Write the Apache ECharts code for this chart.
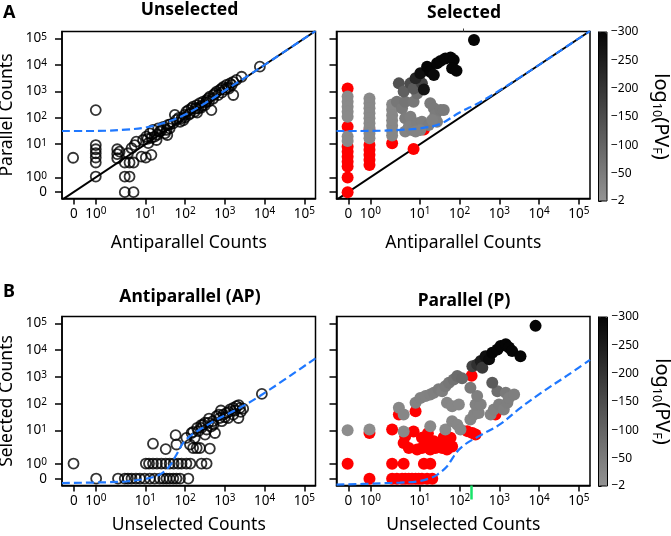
<!DOCTYPE html>
<html><head><meta charset="utf-8">
<script src="https://cdn.jsdelivr.net/npm/echarts@6/dist/echarts.min.js"></script>
<style>html,body{margin:0;padding:0;background:#fff}#c{width:671px;height:536px}</style>
</head><body><div id="c"></div><script>
// Axis coordinates are in "log10 count" units: 10^k sits at k; the special ticks "0" and "10^0" sit at -0.8 and -0.25.
const tickPos = [-0.8, -0.25, 1, 2, 3, 4, 5];
const tickLabels = ['0', '10{s|0}', '10{s|1}', '10{s|2}', '10{s|3}', '10{s|4}', '10{s|5}'];
const cbTicks = [-300, -250, -200, -150, -100, -50, -2];
const pvRange = [-300, -2];

// Panel A, Unselected: [antiparallel, parallel]
const unselPts = [
[-0.82,0.49],
[-0.25,2.29],[-0.25,0.97],[-0.25,0.81],[-0.25,0.66],[-0.25,0.5],[-0.25,0.31],[-0.25,-0.22],
[0.29,0.81],[0.29,0.63],[0.29,0.47],[0.35,0.72],
[0.48,0.31],[0.6,0.31],[0.7,0.31],[0.48,-0.22],[0.6,-0.22],[0.48,-0.81],[0.7,-0.81],
[0.56,0.66],[0.65,0.85],[0.77,1.1],[0.73,0.97],[0.9,0.53],[1.01,0.5],[1.15,0.6],
[0.94,1.16],[1.02,1.29],[1.07,1.04],[1.11,1.41],[1.19,1.54],[1.23,1.29],[1.28,1.16],[1.32,1.6],[1.36,1.48],
[1.45,1.66],[1.49,1.41],[1.53,1.54],[1.57,1.73],[1.61,1.6],[1.7,1.79],[1.74,2.11],[1.78,1.92],[1.87,1.85],
[1.91,1.98],[1.99,2.11],[2.03,2.23],[2.08,2.29],[2.12,2.17],[2.16,2.36],[2.2,2.42],[2.24,2.23],[2.29,2.48],
[2.33,2.36],[2.37,2.55],[2.41,2.45],[2.45,2.61],[2.5,2.48],[2.54,2.67],[2.58,2.73],[2.62,2.8],[2.66,2.29],
[2.71,2.86],[2.75,2.92],[2.79,2.99],[2.83,2.86],[2.87,3.05],[2.92,3.11],[2.96,3.17],[3,3.07],[3.04,3.24],
[3.08,3.15],[3.13,3.3],[3.17,3.24],[3.21,3.36],[3.21,2.86],[3.29,3.43],[3.42,3.55],[3.88,3.93],
[2.0,2.02],[2.1,2.12],[2.26,2.35],[2.4,2.38],[2.52,2.58],[2.6,2.62],[2.7,2.72],[1.84,2.0],[1.62,1.75],
[1.4,1.52],[1.3,1.36],[1.15,1.24],[2.92,2.95],[3.1,3.1],[1.95,1.9],[2.3,2.2],[1.55,1.35],[1.05,1.2]
];
const unselFit = [[-1.1,1.5],[-0.5,1.5],[0,1.51],[0.5,1.55],[1,1.63],[1.5,1.82],[2,2.12],[2.5,2.55],[3,3.03],[3.5,3.51],[4,4.0],[4.5,4.5],[5.28,5.28]];

// Panel A, Selected: red = not significant; gray = [ap, p, log10(PV_F)]
const selRed = [
[-0.82,3.11],[-0.82,1.66],[-0.82,0.91],[-0.82,0.72],[-0.82,0.53],[-0.82,0.34],[-0.82,0.16],[-0.82,-0.26],[-0.82,-0.81],
[-0.27,1.54],[-0.27,0.97],[-0.27,0.79],[-0.27,0.6],[-0.27,0.41],[-0.27,0.22],
[0.3,1.04],[0.84,0.82],[1.1,1.56]
];
const selGray = [
[-0.82,2.8,-20],[-0.82,2.61,-20],[-0.82,2.42,-20],[-0.82,2.23,-20],[-0.82,2.04,-20],[-0.82,1.29,-20],[-0.82,1.12,-20],
[-0.27,2.73,-22],[-0.27,2.55,-22],[-0.27,2.36,-22],[-0.27,2.17,-22],[-0.27,1.98,-22],[-0.27,1.79,-22],[-0.27,1.62,-22],[-0.27,1.41,-22],[-0.27,1.23,-22],
[0.3,2.5,-28],[0.3,2.3,-28],[0.3,2.1,-28],[0.3,1.9,-28],[0.3,1.7,-28],[0.3,1.5,-28],[0.3,1.33,-28],
[0.42,2.61,-60],[0.55,2.36,-55],[0.63,2.61,-65],[0.84,2.61,-60],[0.93,2.92,-75],[0.63,1.98,-48],[0.76,2.04,-45],
[0.72,1.66,-40],[0.63,1.48,-35],[0.8,1.54,-40],[0.93,1.79,-45],[1.05,1.85,-45],[1.22,1.73,-48],[1.26,2.55,-55],
[1.35,2.36,-55],[1.39,2.11,-50],[1.52,2.29,-55],[1.6,2.29,-55],[1.43,1.85,-45],[1.31,1.92,-40],[1.01,1.54,-35],[0.89,1.48,-35],
[0.47,3.3,-140],[0.59,2.99,-110],[0.76,3.3,-150],[0.84,3.11,-120],[1.05,3.3,-170],[0.89,3.49,-230],[1.01,3.68,-280],
[1.1,3.07,-270],[1.18,3.93,-300],[1.26,3.74,-300],[1.35,3.62,-290],[1.43,4.06,-300],[1.52,4.15,-300],[1.64,4.24,-300],
[1.77,4.28,-300],[1.85,4.18,-300],[1.81,3.87,-300],[1.92,3.78,-300],[2.36,4.94,-300]
];
const selFit = [[-1.1,1.5],[-0.5,1.5],[0,1.51],[0.5,1.54],[1,1.6],[1.5,1.76],[2,2.2],[2.5,2.58],[3,3.03],[3.5,3.51],[4,4.0],[4.5,4.5],[5.28,5.28]];
const identity = [[-1.1,-1.1],[5.28,5.28]];

// Panel B, Antiparallel: [unselected, selected]
const apPts = [
[-0.81,-0.23],[-0.24,-0.79],
[0.31,-0.79],[0.48,-0.79],[0.56,-0.79],[0.65,-0.79],[0.76,-0.79],[0.86,-0.79],[0.98,-0.79],[1.11,-0.79],[1.23,-0.79],
[1.36,-0.79],[1.45,-0.79],[1.53,-0.79],[1.61,-0.79],[1.7,-0.79],[1.78,-0.79],[1.87,-0.79],[2.08,-0.79],
[1.01,-0.23],[1.09,-0.23],[1.19,-0.23],[1.29,-0.23],[1.4,-0.23],[1.51,-0.23],[1.61,-0.23],[1.71,-0.23],[1.82,-0.23],
[1.91,-0.23],[2.03,-0.23],[2.13,-0.23],[2.41,-0.23],[2.54,-0.23],
[1.19,0.51],[1.51,0.31],[1.76,0.83],[1.78,0.48],[2.03,0.73],[2.16,0.91],[2.24,0.73],[2.33,0.98],[2.37,0.35],
[2.29,0.35],[2.2,0.35],[2.62,0.33],[2.45,1.22],[2.54,1.04],[2.41,1.1],[2.58,1.29],[2.71,1.22],[2.79,1.54],
[2.75,0.91],[2.87,1.47],[2.96,1.6],[2.92,1.35],[3.04,1.66],[3.13,1.79],[3.21,1.85],[3.29,1.91],[3.38,1.85],
[3.46,1.82],[3.34,1.47],[3.21,1.6],[3.08,1.47],[2.66,1.16],[2.5,0.85],[2.12,0.48],[3.93,2.37],
[2.5,1.3],[2.6,1.45],[2.7,1.35],[2.85,1.6],[3.0,1.5],[3.1,1.7],[3.25,1.75],[3.4,1.7],[2.4,1.2],[2.3,1.1],
[2.2,0.95],[2.9,1.75],[3.35,1.95]
];
const apFit = [[-1.1,-0.96],[0,-0.93],[0.5,-0.9],[1,-0.8],[1.35,-0.65],[1.6,-0.34],[1.78,0.1],[1.95,0.54],[2.12,0.79],[2.37,1.04],[2.79,1.41],[3.21,1.72],[3.88,2.29],[5.28,3.7]];

// Panel B, Parallel
const pRed = [
[-0.82,-0.24],[-0.27,-0.8],[-0.27,0.91],[0.3,-0.24],[0.59,-0.24],[1.1,-0.24],[1.26,-0.24],
[0.3,-0.8],[0.42,-0.8],[0.55,-0.8],[0.63,-0.8],[0.72,-0.8],[0.8,-0.8],[0.89,-0.8],[0.97,-0.8],[1.05,-0.8],[1.18,-0.8],[1.31,-0.8],
[0.3,1.04],[0.47,1.6],[0.89,1.72],
[0.59,0.54],[0.63,0.79],[0.84,0.97],[0.93,0.29],[1.05,0.73],[1.05,0.35],[1.18,0.54],[1.26,0.29],[1.35,0.6],
[1.39,0.35],[1.47,0.54],[1.56,0.35],[1.68,0.6],[1.77,0.73],[1.81,0.41],[1.68,0.29],[1.2,0.9],[0.72,0.35],[1.6,0.75],
[2.19,0.98],[2.32,0.91],[2.4,0.85],[2.3,3.05],[2.9,1.6]
];
const pGray = [
[-0.82,1.01,-15],[-0.27,1.04,-15],[0.59,0.97,-20],[1.26,1.16,-22],[1.64,1.04,-22],
[0.47,1.85,-28],[0.59,1.6,-28],[0.89,2.04,-35],[1.01,2.22,-38],[1.14,2.29,-38],[1.26,2.35,-40],[1.35,2.41,-45],
[1.47,2.54,-50],[1.56,2.47,-45],[1.64,2.66,-55],[1.73,2.79,-62],[1.85,2.91,-72],[1.94,3.04,-85],
[1.68,2.04,-30],[1.81,1.91,-28],[1.98,1.97,-28],[1.81,1.35,-28],[1.94,1.22,-28],[2.02,1.04,-28],
[2.27,1.41,-32],[2.36,1.6,-35],[2.48,1.66,-35],[2.4,1.97,-40],[2.53,1.97,-40],[2.44,2.29,-45],[2.27,2.6,-55],
[2.78,1.6,-35],[2.86,1.79,-40],[2.99,1.97,-45],[3.11,1.79,-40],[3.2,2.04,-45],[2.95,2.47,-80],[3.16,2.41,-55],
[3.24,2.22,-45],[3.37,2.35,-45],[2.06,2.95,-90],
[2.82,2.79,-120],[2.32,3.4,-170],[2.44,3.47,-210],[2.53,3.6,-250],[2.57,3.35,-190],[2.65,3.78,-280],[2.74,3.66,-290],
[2.82,3.91,-300],[2.95,4.03,-300],[3.03,4.16,-300],[3.16,4.22,-300],[3.24,4.1,-300],[3.32,3.97,-300],[3.53,3.78,-300],[3.91,4.91,-300]
];
const pFit = [[-1.1,-1.02],[0,-0.97],[0.5,-0.94],[0.93,-0.9],[1.27,-0.77],[1.43,-0.65],[1.68,-0.34],[1.85,0.04],[1.98,0.29],[2.19,0.54],[2.52,0.82],[3.03,1.25],[3.53,1.85],[4.04,2.4],[4.71,3.06],[5.28,3.64]];
const pMarker = [2.29];
const selTopMarker = [2.09];

const FONT = 'Noto Sans';
const X_MIN = -1.1, X_MAX = 5.28, Y_MIN = -1.05, Y_MAX = 5.26;
const BLUE = '#1f78ff';
function tickText(v) { const i = tickPos.findIndex(p => Math.abs(p - v) < 1e-6); return i < 0 ? '' : tickLabels[i]; }
const labelRich = { s: { fontSize: 10, lineHeight: 9, verticalAlign: 'top', fontFamily: FONT, color: '#000' } };

function xAx(grid, name, gap) {
  return {
    type: 'value', gridIndex: grid, min: X_MIN, max: X_MAX, position: 'bottom',
    splitLine: { show: false },
    axisLine: { show: true, onZero: false, lineStyle: { color: '#000', width: 1.5 } },
    axisTick: { show: true, customValues: tickPos, length: 6, lineStyle: { color: '#000', width: 1.5 } },
    axisLabel: { customValues: tickPos, formatter: tickText, fontSize: 13.5, lineHeight: 15, margin: 8, hideOverlap: false,
      color: '#000', fontFamily: FONT, rich: labelRich },
    name: name, nameLocation: 'middle', nameGap: gap,
    nameTextStyle: { fontSize: 17.5, color: '#000', fontFamily: FONT }
  };
}
function yAx(grid, showLabel, name) {
  return {
    type: 'value', gridIndex: grid, min: Y_MIN, max: Y_MAX, position: 'left',
    splitLine: { show: false },
    axisLine: { show: true, onZero: false, lineStyle: { color: '#000', width: 1.5 } },
    axisTick: { show: true, customValues: tickPos, length: 7, lineStyle: { color: '#000', width: 1.5 } },
    axisLabel: { show: showLabel, customValues: tickPos, formatter: tickText, fontSize: 13.5, lineHeight: 13, margin: 15, hideOverlap: false,
      color: '#000', fontFamily: FONT, rich: labelRich },
    name: name || '', nameLocation: 'middle', nameGap: 46,
    nameTextStyle: { fontSize: 17.5, color: '#000', fontFamily: FONT }
  };
}
function cbAx(grid) {
  return {
    type: 'value', gridIndex: grid, position: 'right', min: pvRange[0], max: pvRange[1], inverse: true,
    splitLine: { show: false },
    axisLine: { show: true, lineStyle: { color: '#000', width: 1 } },
    axisTick: { show: true, customValues: cbTicks, length: 3, lineStyle: { color: '#000', width: 1 } },
    axisLabel: { customValues: cbTicks, formatter: v => '\u2212' + Math.abs(v), fontSize: 12, margin: 4, hideOverlap: false,
      color: '#000', fontFamily: FONT },
    name: 'log{s|10}(PV{s|F})', nameLocation: 'middle', nameRotate: -90, nameGap: 43,
    nameTextStyle: { fontSize: 20, color: '#000', fontFamily: FONT, lineHeight: 22,
      rich: { s: { fontSize: 12.5, lineHeight: 12, verticalAlign: 'bottom', fontFamily: FONT, color: '#000' } } }
  };
}
const gridBorder = { show: true, borderColor: '#000', borderWidth: 1.5, backgroundColor: 'transparent', outerBoundsMode: 'none', containLabel: false };

function lineS(xi, data, dashed) {
  return { type: 'line', xAxisIndex: xi, yAxisIndex: xi, data: data, symbol: 'none', silent: true,
    smooth: dashed ? 0.35 : false,
    lineStyle: dashed ? { color: BLUE, width: 2.2, type: [8, 4] } : { color: '#000', width: 2 } };
}
function openS(xi, data) {
  return { type: 'scatter', xAxisIndex: xi, yAxisIndex: xi, data: data, symbol: 'circle', symbolSize: 10,
    itemStyle: { color: 'rgba(0,0,0,0)', borderColor: '#000', borderWidth: 1.8 } };
}
function filledS(xi, data, color) {
  const s = { type: 'scatter', xAxisIndex: xi, yAxisIndex: xi, data: data, symbol: 'circle', symbolSize: 12, itemStyle: { opacity: 1 } };
  if (color) s.itemStyle.color = color;
  return s;
}

const option = {
  animation: false,
  backgroundColor: '#fff',
  textStyle: { fontFamily: FONT },
  grid: [
    Object.assign({ left: 62, top: 31.5, width: 253.5, height: 167 }, gridBorder),
    Object.assign({ left: 336.5, top: 31.5, width: 253.5, height: 167 }, gridBorder),
    Object.assign({ left: 62, top: 316.5, width: 253.5, height: 169 }, gridBorder),
    Object.assign({ left: 336.5, top: 316.5, width: 253.5, height: 169 }, gridBorder),
    { left: 598.5, top: 32, width: 8.5, height: 169, show: true, borderColor: '#000', borderWidth: 1, z: 6, outerBoundsMode: 'none', containLabel: false },
    { left: 598.5, top: 317, width: 9, height: 169, show: true, borderColor: '#000', borderWidth: 1, z: 6, outerBoundsMode: 'none', containLabel: false }
  ],
  xAxis: [
    xAx(0, 'Antiparallel Counts', 36), xAx(1, 'Antiparallel Counts', 36),
    xAx(2, 'Unselected Counts', 31), xAx(3, 'Unselected Counts', 31),
    { type: 'value', gridIndex: 4, show: false, min: 0, max: 1 },
    { type: 'value', gridIndex: 5, show: false, min: 0, max: 1 },
    { type: 'value', gridIndex: 3, position: 'bottom', min: X_MIN, max: X_MAX, splitLine: { show: false },
      axisLine: { show: false, onZero: false }, axisLabel: { show: false },
      axisTick: { show: true, customValues: pMarker, length: 14, lineStyle: { color: '#19e36a', width: 2.5 } } },
    { type: 'value', gridIndex: 1, position: 'top', min: X_MIN, max: X_MAX, splitLine: { show: false },
      axisLine: { show: false, onZero: false }, axisLabel: { show: false },
      axisTick: { show: true, customValues: selTopMarker, length: 3, lineStyle: { color: '#444', width: 1 } } }
  ],
  yAxis: [
    yAx(0, true, 'Parallel Counts'), yAx(1, false), yAx(2, true, 'Selected Counts'), yAx(3, false),
    cbAx(4), cbAx(5)
  ],
  visualMap: [
    { type: 'continuous', seriesIndex: 4, dimension: 2, min: pvRange[0], max: pvRange[1], inverse: true, orient: 'vertical',
      left: 598.5, top: 32, itemWidth: 8.5, itemHeight: 169, padding: 0, calculable: false, hoverLink: false,
      inRange: { color: ['#050505', '#939393'] } },
    { type: 'continuous', seriesIndex: 10, dimension: 2, min: pvRange[0], max: pvRange[1], inverse: true, orient: 'vertical',
      left: 598.5, top: 317, itemWidth: 9, itemHeight: 169, padding: 0, calculable: false, hoverLink: false,
      inRange: { color: ['#050505', '#939393'] } }
  ],
  graphic: [
    { type: 'text', x: 3, y: 13, style: { text: 'A', fontSize: 18, fontWeight: 'bold', fontFamily: FONT, fill: '#000', align: 'left', verticalAlign: 'middle' } },
    { type: 'text', x: 3, y: 292, style: { text: 'B', fontSize: 18, fontWeight: 'bold', fontFamily: FONT, fill: '#000', align: 'left', verticalAlign: 'middle' } },
    { type: 'text', x: 189.5, y: 10, style: { text: 'Unselected', fontSize: 17.5, fontWeight: 'bold', fontFamily: FONT, fill: '#000', align: 'center', verticalAlign: 'middle' } },
    { type: 'text', x: 464, y: 13, style: { text: 'Selected', fontSize: 17.5, fontWeight: 'bold', fontFamily: FONT, fill: '#000', align: 'center', verticalAlign: 'middle' } },
    { type: 'text', x: 190, y: 297.5, style: { text: 'Antiparallel (AP)', fontSize: 17.5, fontWeight: 'bold', fontFamily: FONT, fill: '#000', align: 'center', verticalAlign: 'middle' } },
    { type: 'text', x: 464, y: 301, style: { text: 'Parallel (P)', fontSize: 17.5, fontWeight: 'bold', fontFamily: FONT, fill: '#000', align: 'center', verticalAlign: 'middle' } }
  ],
  series: [
    openS(0, unselPts),               // 0
    lineS(0, identity, false),        // 1
    lineS(0, unselFit, true),         // 2
    filledS(1, selRed, '#ff0000'),    // 3
    filledS(1, selGray, null),        // 4
    lineS(1, identity, false),        // 5
    lineS(1, selFit, true),           // 6
    openS(2, apPts),                  // 7
    lineS(2, apFit, true),            // 8
    filledS(3, pRed, '#ff0000'),      // 9
    filledS(3, pGray, null),          // 10
    lineS(3, pFit, true)              // 11
  ]
};
option.series[1].z = 1; option.series[5].z = 1;
const chart = echarts.init(document.getElementById('c'), null, { renderer: 'canvas' });
chart.setOption(option);
</script></body></html>
